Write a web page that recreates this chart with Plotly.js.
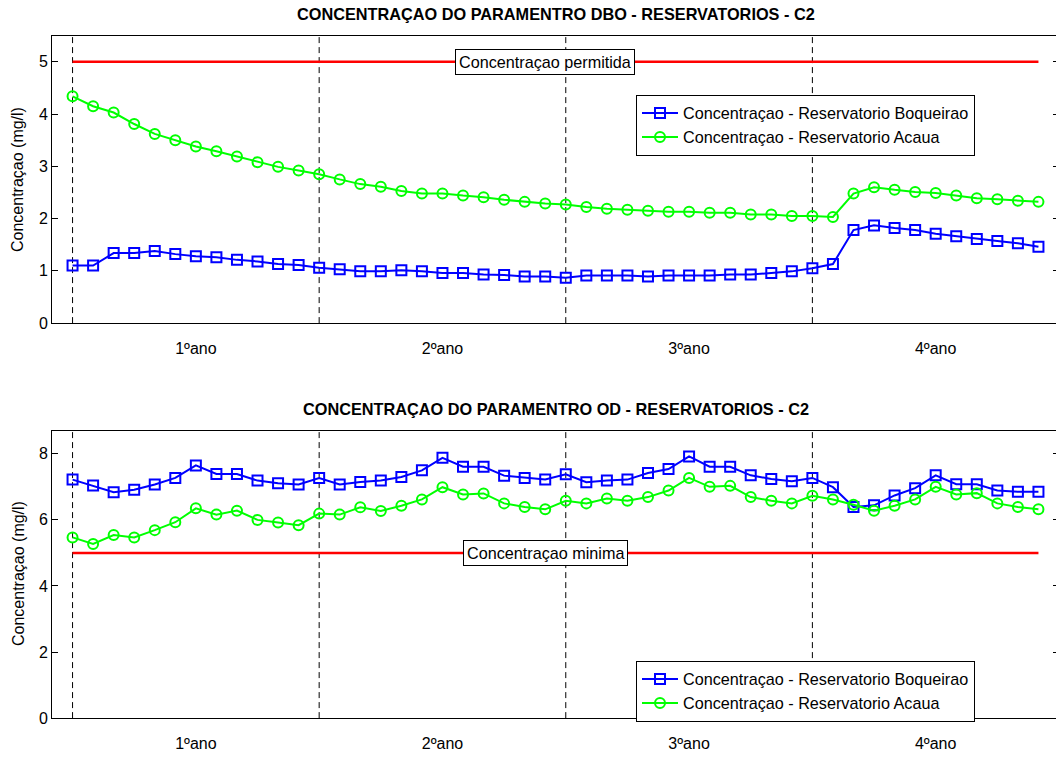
<!DOCTYPE html>
<html>
<head>
<meta charset="utf-8">
<script src="https://cdn.plot.ly/plotly-3.0.1.min.js"></script>
<style>
html, body { margin: 0; padding: 0; overflow: hidden; background: #fff; }
#chart { width: 1062px; height: 764px; }
</style>
</head>
<body>
<div id="chart"></div>
<script>
// ---- data ----
const months = [1,2,3,4,5,6,7,8,9,10,11,12,13,14,15,16,17,18,19,20,21,22,23,24,
                25,26,27,28,29,30,31,32,33,34,35,36,37,38,39,40,41,42,43,44,45,46,47,48];
const yearStarts = [1, 13, 25, 37];
const yearCenters = [7, 19, 31, 43];
const yearLabels = ["1ºano", "2ºano", "3ºano", "4ºano"];

const dboBoqueirao = [1.10,1.10,1.34,1.34,1.38,1.32,1.28,1.26,1.21,1.18,1.13,1.11,
                      1.06,1.03,0.99,0.99,1.01,0.99,0.96,0.96,0.93,0.92,0.89,0.89,
                      0.87,0.91,0.91,0.91,0.89,0.91,0.91,0.91,0.93,0.93,0.96,0.99,
                      1.05,1.13,1.78,1.87,1.82,1.78,1.71,1.66,1.61,1.57,1.53,1.46];
const dboAcaua = [4.34,4.15,4.03,3.81,3.62,3.50,3.38,3.29,3.19,3.08,2.99,2.92,
                  2.85,2.75,2.66,2.61,2.53,2.48,2.48,2.44,2.41,2.36,2.32,2.29,
                  2.27,2.22,2.19,2.17,2.15,2.13,2.13,2.11,2.11,2.08,2.08,2.05,
                  2.05,2.03,2.48,2.60,2.55,2.51,2.49,2.44,2.39,2.37,2.34,2.32];
const odBoqueirao = [7.22,7.04,6.84,6.91,7.07,7.27,7.65,7.39,7.39,7.19,7.11,7.07,
                     7.27,7.07,7.15,7.19,7.30,7.50,7.88,7.61,7.61,7.34,7.27,7.22,
                     7.38,7.14,7.19,7.22,7.42,7.54,7.92,7.61,7.61,7.35,7.24,7.17,
                     7.27,6.99,6.39,6.44,6.74,6.96,7.35,7.08,7.08,6.89,6.85,6.85];
const odAcaua = [5.47,5.27,5.54,5.47,5.69,5.93,6.35,6.16,6.28,6.00,5.92,5.84,
                 6.19,6.16,6.38,6.27,6.43,6.62,6.99,6.77,6.80,6.50,6.39,6.32,
                 6.58,6.50,6.65,6.58,6.69,6.89,7.27,7.00,7.03,6.69,6.58,6.50,
                 6.73,6.62,6.46,6.28,6.43,6.62,7.00,6.77,6.81,6.50,6.39,6.32];
const limitDBO = 5;
const limitOD = 5;
const limitLabelX = 24;

const seriesNames = ["Concentraçao - Reservatorio Boqueirao", "Concentraçao - Reservatorio Acaua"];
const titles = ["CONCENTRAÇAO DO PARAMENTRO DBO - RESERVATORIOS - C2",
                "CONCENTRAÇAO DO PARAMENTRO OD - RESERVATORIOS - C2"];
const limitLabels = ["Concentraçao permitida", "Concentraçao minima"];
const yTitle = "Concentraçao (mg/l)";

// ---- styling ----
const FONT = "Liberation Sans, Arial, Helvetica, sans-serif";
const BLUE = "rgb(0,0,255)", GREEN = "rgb(0,255,0)", RED = "rgb(255,0,0)";

function series(y, name, color, symbol, xa, ya, legend, showlegend) {
  return {
    x: months, y: y, name: name, type: "scatter", mode: "lines+markers",
    xaxis: xa, yaxis: ya, legend: legend, showlegend: showlegend,
    line: { color: color, width: 2 },
    marker: { symbol: symbol, size: 10, color: color, line: { color: color, width: 2 } }
  };
}
function limitLine(v, xa, ya) {
  return {
    x: [months[0], months[months.length - 1]], y: [v, v], type: "scatter", mode: "lines",
    xaxis: xa, yaxis: ya, showlegend: false, hoverinfo: "skip",
    line: { color: RED, width: 2.5 }
  };
}

const traces = [
  limitLine(limitDBO, "x", "y"),
  series(dboBoqueirao, seriesNames[0], BLUE, "square-open", "x", "y", "legend", true),
  series(dboAcaua, seriesNames[1], GREEN, "circle-open", "x", "y", "legend", true),
  limitLine(limitOD, "x2", "y2"),
  series(odBoqueirao, seriesNames[0], BLUE, "square-open", "x2", "y2", "legend2", true),
  series(odAcaua, seriesNames[1], GREEN, "circle-open", "x2", "y2", "legend2", true)
];

const shapes = [];
["x", "x2"].forEach((xa, k) => {
  const yr = k === 0 ? "y domain" : "y2 domain";
  yearStarts.forEach(v => {
    shapes.push({ type: "line", xref: xa, yref: yr, x0: v, x1: v, y0: 0, y1: 1,
      line: { color: "black", width: 1, dash: "6px,4px" }, layer: "below" });
  });
});

function xaxis() {
  return {
    range: [0, 49], domain: [0, 1], showgrid: false, zeroline: false,
    showline: true, mirror: true, linecolor: "black", linewidth: 1,
    tickmode: "array", tickvals: yearCenters, ticktext: yearLabels,
    ticks: "", ticklabelstandoff: 11, automargin: false,
    tickfont: { family: FONT, size: 16, color: "black" }, fixedrange: true
  };
}
function yaxis(range, dtick, domain) {
  return {
    range: range, domain: domain, dtick: dtick, tick0: 0, showgrid: false, zeroline: false,
    showline: true, mirror: "ticks", linecolor: "black", linewidth: 1,
    ticks: "inside", ticklen: 6, tickcolor: "black", automargin: false,
    tickfont: { family: FONT, size: 16, color: "black" }, fixedrange: true
  };
}

const H = 764;
const legendStyle = {
  xanchor: "left", yanchor: "top",
  bgcolor: "white", bordercolor: "black", borderwidth: 1,
  font: { family: FONT, size: 16.2, color: "black" }, itemwidth: 36, tracegroupgap: 0
};
const layout = {
  width: 1062, height: H,
  margin: { l: 52, r: 3, t: 0, b: 0 },
  paper_bgcolor: "white", plot_bgcolor: "white",
  font: { family: FONT, size: 16, color: "black" },
  xaxis: Object.assign(xaxis(), { anchor: "y" }),
  yaxis: Object.assign(yaxis([0, 5.5], 1, [1 - 323.1 / H, 1 - 35.7 / H]), { anchor: "x" }),
  xaxis2: Object.assign(xaxis(), { anchor: "y2" }),
  yaxis2: Object.assign(yaxis([0, 8.7], 2, [1 - 718.1 / H, 1 - 430.7 / H]), { anchor: "x2" }),
  shapes: shapes,
  legend: Object.assign({ x: (636 - 52) / 1007, y: 1 - 95 / H }, legendStyle),
  legend2: Object.assign({ x: (636 - 52) / 1007, y: 1 - 661 / H }, legendStyle),
  annotations: [
    { text: "<b>" + titles[0] + "</b>", xref: "paper", yref: "paper", x: 0.5005, y: 1 - 14 / H,
      xanchor: "center", yanchor: "middle", showarrow: false, font: { family: FONT, size: 16.3 } },
    { text: "<b>" + titles[1] + "</b>", xref: "paper", yref: "paper", x: 0.5005, y: 1 - 409 / H,
      xanchor: "center", yanchor: "middle", showarrow: false, font: { family: FONT, size: 16.3 } },
    { text: yTitle, xref: "paper", yref: "paper", x: (18 - 52) / 1007, y: 1 - 180 / H, textangle: -90,
      xanchor: "center", yanchor: "middle", showarrow: false, font: { family: FONT, size: 16 } },
    { text: yTitle, xref: "paper", yref: "paper", x: (18 - 52) / 1007, y: 1 - 574 / H, textangle: -90,
      xanchor: "center", yanchor: "middle", showarrow: false, font: { family: FONT, size: 16 } },
    { text: limitLabels[0], xref: "x", yref: "y", x: limitLabelX, y: limitDBO, showarrow: false,
      bgcolor: "white", bordercolor: "black", borderwidth: 1, borderpad: 3,
      font: { family: FONT, size: 16.2, color: "black" } },
    { text: limitLabels[1], xref: "x2", yref: "y2", x: limitLabelX, y: limitOD, showarrow: false,
      bgcolor: "white", bordercolor: "black", borderwidth: 1, borderpad: 3,
      font: { family: FONT, size: 16.2, color: "black" } }
  ]
};

Plotly.newPlot("chart", traces, layout, { staticPlot: true, displayModeBar: false });
</script>
</body>
</html>
